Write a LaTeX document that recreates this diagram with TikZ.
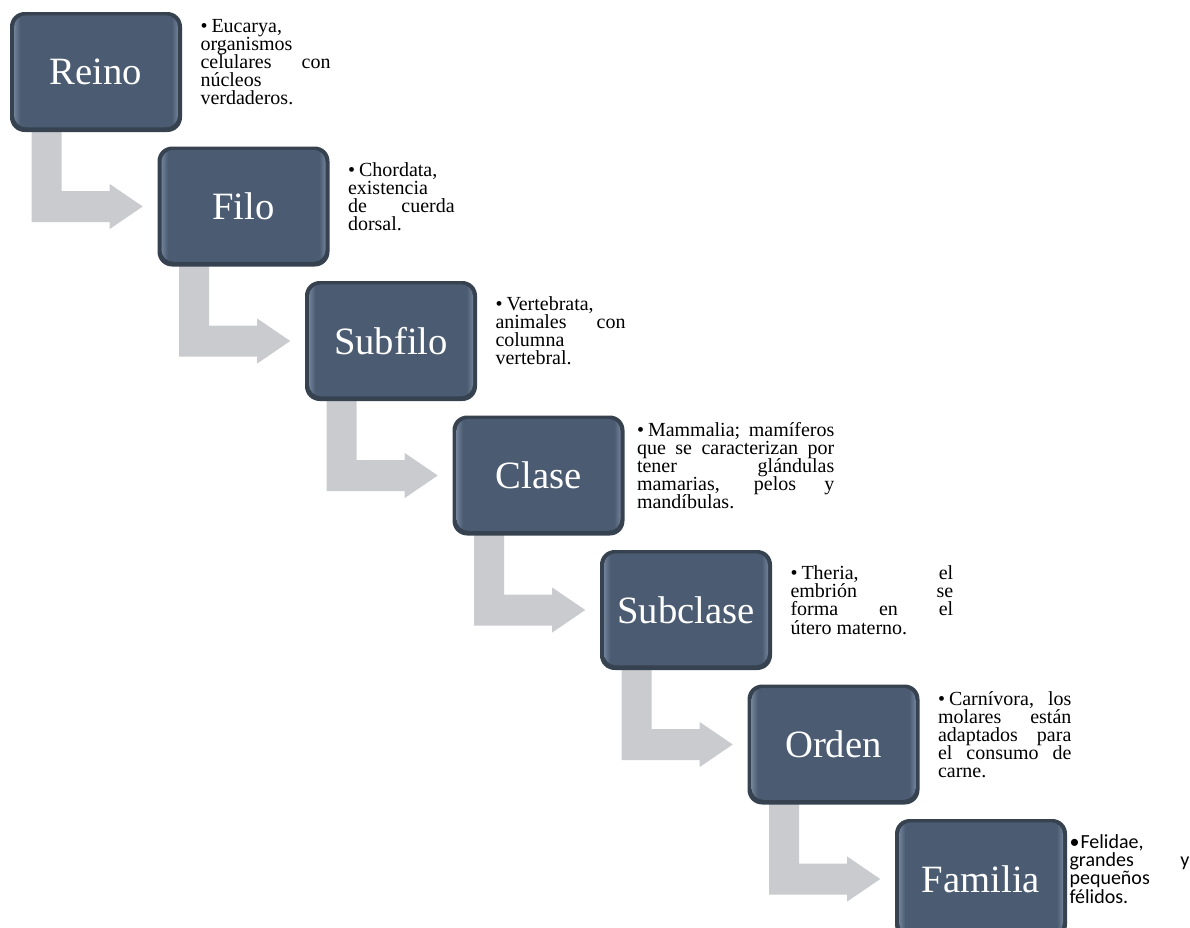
\documentclass[tikz,border=0pt]{standalone}
\usepackage{fontspec}
\setmainfont{Liberation Serif}
\newfontfamily\calibrifont{Carlito}
\usetikzlibrary{calc,backgrounds}

\definecolor{boxface}{HTML}{4B5B72}
\definecolor{boxedge}{HTML}{36424F}
\definecolor{boxsheen}{HTML}{8A9AAF}
\definecolor{arrowgray}{HTML}{C9CBCE}

\pgfdeclarehorizontalshading{boxgloss}{100bp}{color(0bp)=(boxsheen); color(25bp)=(boxsheen); color(28bp)=(boxface); color(72bp)=(boxface); color(75bp)=(boxsheen); color(100bp)=(boxsheen)}

\newcommand{\itembul}{\makebox[0.55em][l]{\textbullet}}

\begin{document}
\begin{tikzpicture}[x=0.75pt,y=-0.75pt,
  stepbox/.style={rounded corners=11pt,minimum width=129pt,minimum height=90pt,
    inner sep=0pt,fill=boxedge,text=white,font=\fontsize{29}{34}\selectfont,
    path picture={\shade[shading=boxgloss,rounded corners=9pt]
      ([shift={(3pt,-2.5pt)}]path picture bounding box.north west) rectangle
      ([shift={(-3pt,3.5pt)}]path picture bounding box.south east);}},
  desc/.style={anchor=west,inner sep=0pt,align=justify,
    font=\fontsize{15}{13.6}\selectfont,
    execute at begin node={\lineskiplimit=-100pt\relax\lineskip=0pt\relax}},
  flow/.style={fill=arrowgray}]
  \useasboundingbox (0,0) rectangle (1190,928);

  % the seven ranks
  \foreach \name/\lab [count=\i from 0] in
    {reino/Reino,filo/Filo,subfilo/Subfilo,clase/Clase,subclase/Subclase,orden/Orden,familia/Familia}
    \node[stepbox] (\name) at (96+147.5*\i,72+134.5*\i) {\lab};

  % descriptions
  \node[desc,text width=97.5pt] (reinotxt) at ($(reino.east)+(18,-10)$)
    {\itembul Eucarya,\linebreak organismos\linebreak celulares con\linebreak núcleos\linebreak verdaderos.};
  \node[desc,text width=80pt] (filotxt) at ($(filo.east)+(18,-10)$)
    {\itembul Chordata,\linebreak existencia\linebreak de cuerda\linebreak dorsal.};
  \node[desc,text width=97.5pt] (subfilotxt) at ($(subfilo.east)+(18,-10)$)
    {\itembul Vertebrata,\linebreak animales con\linebreak columna\linebreak vertebral.};
  \node[desc,text width=148pt] (clasetxt) at ($(clase.east)+(12,-10)$)
    {\itembul Mammalia; mamíferos\linebreak que se caracterizan por\linebreak tener glándulas\linebreak mamarias, pelos y\linebreak mandíbulas.};
  \node[desc,text width=122pt] (subclasetxt) at ($(subclase.east)+(18,-10)$)
    {\itembul Theria, el\linebreak embrión se\linebreak forma en el\linebreak útero materno.};
  \node[desc,text width=100pt] (ordentxt) at ($(orden.east)+(18,-10)$)
    {\itembul Carnívora, los\linebreak molares están\linebreak adaptados para\linebreak el consumo de\linebreak carne.};
  \node[desc,text width=90pt,font=\calibrifont\fontsize{15}{13.6}\selectfont] (familiatxt) at ($(familia.east)+(2,-10)$)
    {\itembul Felidae,\linebreak grandes y\linebreak pequeños\linebreak félidos.};

  % bent arrows between ranks
  \begin{scope}[on background layer]
  \foreach \a/\b in {reino/filo,filo/subfilo,subfilo/clase,clase/subclase,subclase/orden,orden/familia}
    \fill[flow] ($(\a.south west)+(22,-10)$) -- ++(30,0)
      |- ($(\b.west)+(-47.5,-15.5)$) -- ++(0,-7) -- ($(\b.west)+(-14.5,0)$)
      -- ($(\b.west)+(-47.5,22.5)$) -- ++(0,-7) -| cycle;
  \end{scope}
\end{tikzpicture}
\end{document}
